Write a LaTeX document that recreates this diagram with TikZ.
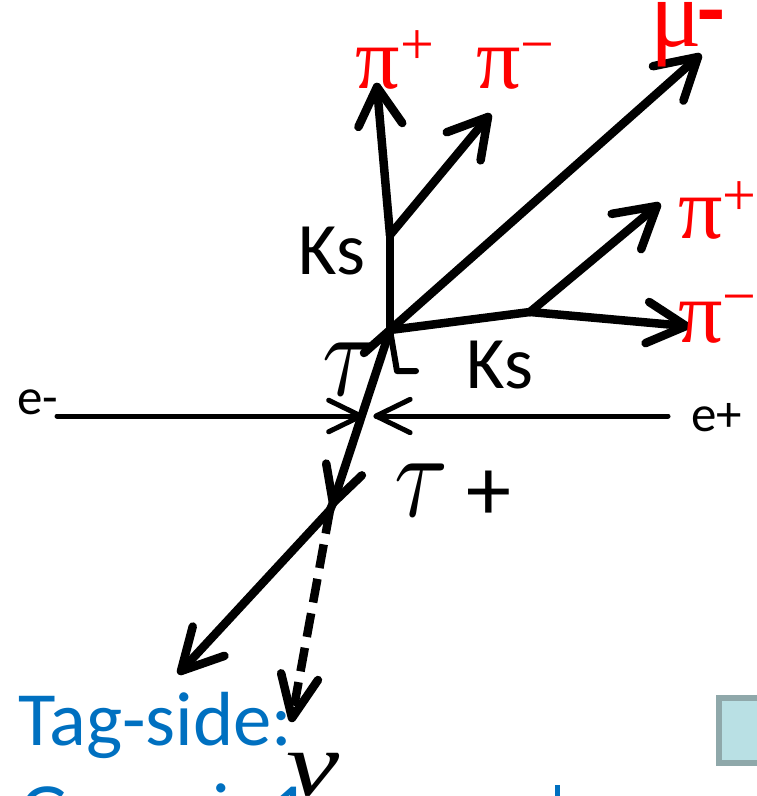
\documentclass[tikz,border=0pt]{standalone}
\usepackage{fontspec}
\usepackage{graphicx}
\usetikzlibrary{calc}
\setmainfont{Carlito}
\newfontfamily\grk{Liberation Serif}
\definecolor{tagblue}{HTML}{0070C0}
\definecolor{boxline}{HTML}{8FA8AA}
\definecolor{boxfill}{HTML}{B9E0E4}
\tikzset{
 x=1pt,y=-1pt,
 thickline/.style={line width=8.5pt,line cap=round,line join=round},
 beamline/.style={line width=5pt,line cap=round,line join=round},
 redlab/.style={text=red,inner sep=0pt,anchor=base west,font=\grk\fontsize{88}{88}\selectfont},
 redsup/.style={text=red,inner sep=0pt,anchor=base west,font=\grk\fontsize{60}{60}\selectfont},
 blacklab/.style={inner sep=0pt,anchor=base west,font=\fontsize{74}{74}\selectfont},
 beamlab/.style={inner sep=0pt,anchor=base west,font=\fontsize{51}{51}\selectfont},
 grklab/.style={inner sep=0pt,anchor=base west,font=\grk\itshape\fontsize{92}{92}\selectfont},
 taulab/.style={inner sep=0pt,anchor=base west},
 taglab/.style={inner sep=0pt,anchor=base west,text=tagblue,font=\fontsize{76.7}{76.7}\selectfont},
}
% style, dash style, start, tip, barb length, half angle
\newcommand{\headedline}[6]{%
 \draw[#1,#2] (#3) -- (#4);
 \draw[#1] ($(#4)!#5pt!#6:(#3)$) -- (#4) -- ($(#4)!#5pt!-#6:(#3)$);
}
\begin{document}
\begin{tikzpicture}
\useasboundingbox (0,0) rectangle (757,796);
\clip (0,0) rectangle (757,796);
\coordinate (v) at (390,330);
\coordinate (mustart) at (364,353);
\coordinate (ks1) at (390,235);
\coordinate (ks2) at (530,312);
\coordinate (tp1) at (377,87);
\coordinate (tm1) at (488,117);
\coordinate (mu) at (698,57);
\coordinate (tp2) at (657,206);
\coordinate (tm2) at (686,326);
\coordinate (taumid) at (333,503);
\coordinate (tauend) at (330,510);
\coordinate (prong) at (181,671);
\coordinate (nu) at (292,718);
\coordinate (em) at (57,416);
\coordinate (emt) at (361,416);
\coordinate (ep) at (668,416);
\coordinate (ept) at (376,416);
\coordinate (lb) at (397,371);
\coordinate (le) at (416,371);
\draw[thickline] (v) -- (ks1);
\headedline{thickline}{}{ks1}{tp1}{44}{30}
\headedline{thickline}{}{ks1}{tm1}{44}{30}
\headedline{thickline}{}{mustart}{mu}{46}{30}
\draw[thickline] (v) -- (ks2);
\headedline{thickline}{}{ks2}{tp2}{46}{30}
\headedline{thickline}{}{ks2}{tm2}{44}{28}
\headedline{thickline}{}{v}{taumid}{40}{28}
\draw[thickline] (taumid) -- (tauend);
\headedline{thickline}{}{tauend}{prong}{46}{28}
\headedline{thickline}{dash pattern=on 24pt off 11pt,line cap=butt}{tauend}{nu}{46}{24}
\headedline{beamline}{}{em}{emt}{36}{26}
\headedline{beamline}{}{ep}{ept}{38}{26}
\draw[thickline,line width=6pt] (v) -- (lb) -- (le);
\node[redlab] (p1) at (355,88) {π};
\node[redsup] (p1s) at (400,64) {+};
\node[redlab] (p2) at (476,88) {π};
\node[redsup] (p2s) at (520,64) {−};
\node[redlab,font=\grk\fontsize{96}{96}\selectfont] (mul) at (650,46) {μ};
\node[redlab,font=\bfseries\fontsize{90}{90}\selectfont] (mus) at (697,40) {-};
\node[redlab] (p3) at (678,238) {π};
\node[redsup] (p3s) at (722,215) {+};
\node[redlab] (p4) at (678,342) {π};
\node[redsup] (p4s) at (722,316) {−};
\node[blacklab] (k1) at (298,274) {Ks};
\node[blacklab] (k2) at (466,388) {Ks};
\node[taulab] (tm) at (322,395) {\scalebox{9.8}[12.2]{$\tau$}};
\node[taulab] (tpl) at (394,516) {\scalebox{9.8}[12.2]{$\tau$}};
\node[blacklab,font=\fontsize{90}{90}\selectfont] (plus) at (466,520) {+};
\node[beamlab] (el) at (17,414) {e-};
\node[beamlab] (er) at (691,431) {e+};
\node[grklab] (nul) at (286,795) {\scalebox{1.3}[1]{ν}};
\node[taglab] (tag) at (18,745) {Tag-side:};
\node[taglab] (gen) at (20,836) {Generic\hspace{8pt}1};
\fill[tagblue] (555,785) rectangle (560,796);
\draw[draw=boxline,fill=boxfill,line width=6pt] (719,698) rectangle (780,763);
\end{tikzpicture}
\end{document}
